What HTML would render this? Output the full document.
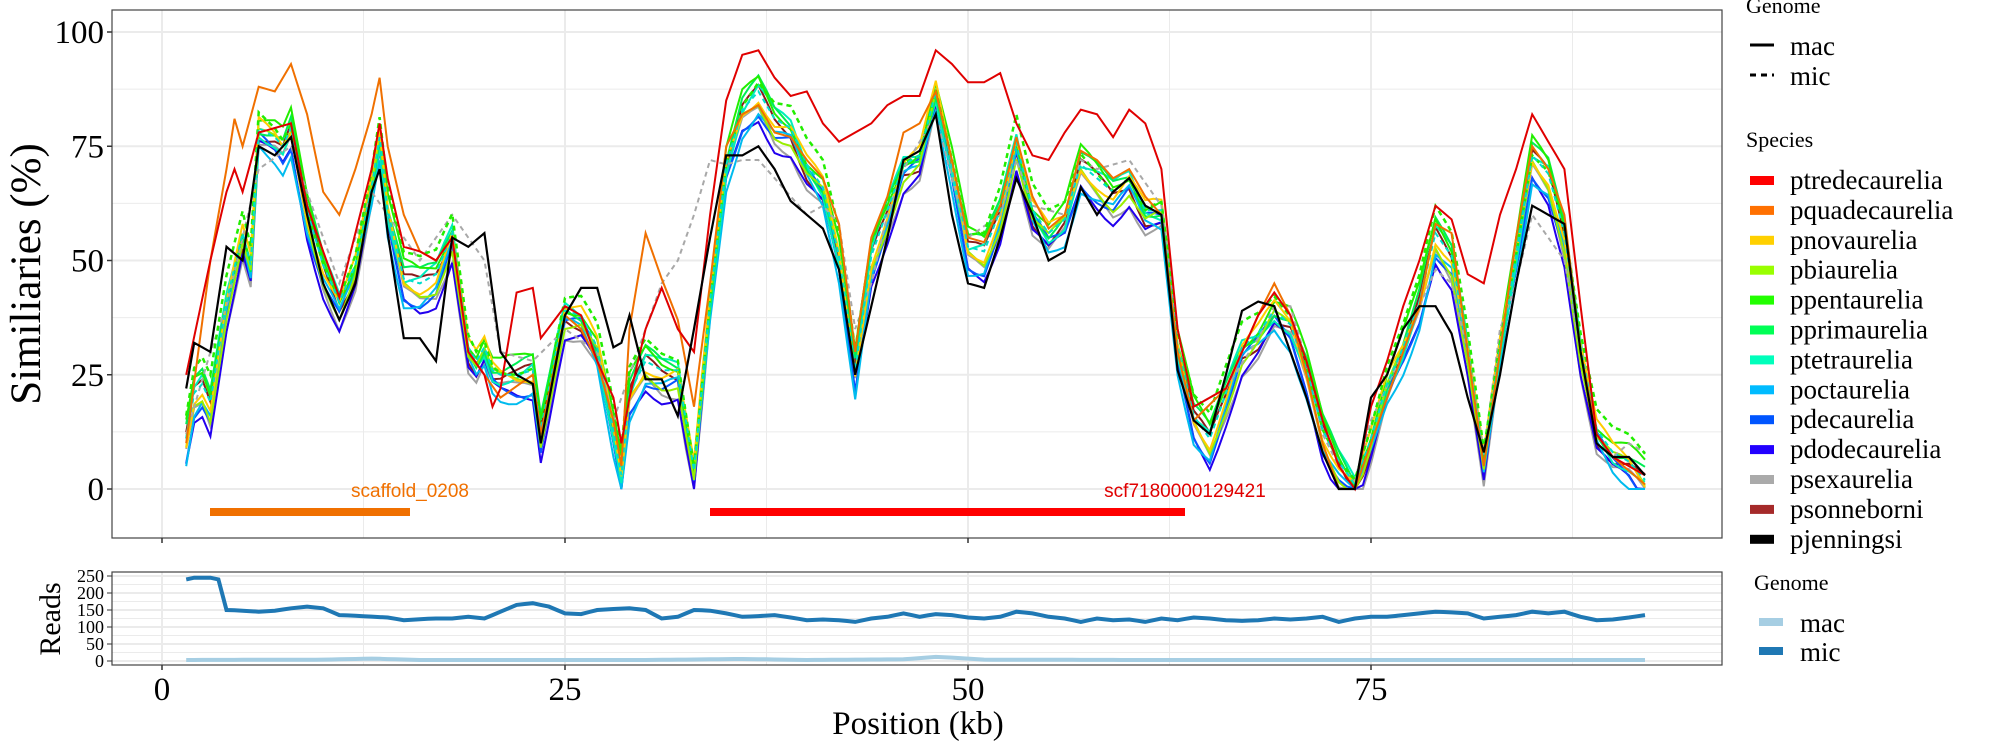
<!DOCTYPE html>
<html><head><meta charset="utf-8"><style>
html,body{margin:0;padding:0;background:#fff}
svg{display:block}
</style></head><body>
<svg id="s" width="2000" height="750" xmlns="http://www.w3.org/2000/svg" font-family="'Liberation Serif', serif"></svg>
<script>
const S=document.getElementById('s');let h='';
const X=k=>162+k*16.12, Y=v=>489-v*4.57, R=r=>661-r*0.34;
const L=112,Rt=1722,T=10,B=538,T2=572,B2=665;
h+=`<rect x="${L}" y="${T}" width="${Rt-L}" height="${B-T}" fill="#fff"/>`;
for(let v=-12.5;v<=100;v+=12.5){const y=Y(v);if(y>T&&y<B)h+=`<line x1="${L}" x2="${Rt}" y1="${y}" y2="${y}" stroke="#ebebeb" stroke-width="${v%25==0?2:1}"/>`;}
for(let k=0;k<=100;k+=12.5){const x=X(k);if(x>L&&x<Rt)h+=`<line y1="${T}" y2="${B}" x1="${x}" x2="${x}" stroke="#ebebeb" stroke-width="${k%25==0?2:1}"/>`;}
function interp(pts){const o=[];for(let k=1.5;k<=92.01;k+=0.5){let i=0;while(i<pts.length-2&&pts[i+1][0]<k)i++;const a=pts[i],b=pts[i+1];let t=(k-a[0])/(b[0]-a[0]);t=Math.max(0,Math.min(1,t));o.push([k,a[1]+(b[1]-a[1])*t]);}return o;}
const cons=[[1.5,10],[2,20],[2.5,22],[3,18],[4,40],[5,55],[5.5,48],[6,78],[7,76],[7.5,74],[8,78],[9,60],[10,48],[11,40],[12,48],[13,65],[13.5,76],[14,60],[15,45],[16,44],[17,46],[18,55],[19,30],[19.5,27],[20,30],[20.5,25],[21,24],[22,24],[23,25],[23.5,12],[24.5,30],[25,38],[26,37],[27,30],[28,12],[28.5,2],[29,20],[30,27],[31,25],[32,25],[33,3],[34,40],[35,70],[36,82],[37,86],[38,80],[39,78],[40,70],[41,65],[42,50],[43,25],[44,50],[45,60],[46,70],[47,72],[48,86],[49,70],[50,52],[51,51],[52,60],[53,75],[54,60],[55,55],[56,58],[57,70],[58,67],[59,64],[60,67],[61,60],[62,60],[63,30],[64,15],[65,10],[66,20],[67,30],[68,33],[69,38],[70,35],[71,25],[72,12],[73,5],[74,0],[75,10],[76,22],[77,30],[78,40],[79,55],[80,50],[81,30],[82,5],[83,30],[84,50],[85,72],[86,68],[87,55],[88,30],[89,12],[90,7],[91,5],[92,1]];
const C=interp(cons);
const red=[[1.5,25],[3,50],[4,65],[4.5,70],[5,65],[6,78],[8,80],[9,62],[11,42],[13,70],[13.5,80],[14,68],[15,53],[16,52],[17,50],[18,55],[19,30],[20,25],[20.5,18],[21,22],[22,43],[23,44],[23.5,33],[25,40],[26,38],[27,28],[28,20],[28.5,10],[29,20],[30,35],[31,44],[32,35],[33,30],[34,60],[35,85],[36,95],[37,96],[38,90],[39,86],[40,87],[41,80],[42,76],[43,78],[44,80],[45,84],[46,86],[47,86],[48,96],[49,93],[50,89],[51,89],[52,91],[53,80],[54,73],[55,72],[56,78],[57,83],[58,82],[59,77],[60,83],[61,80],[62,70],[63,35],[64,18],[66,22],[68,38],[69,43],[70,38],[71,28],[72,15],[73,5],[74,0],[75,18],[76,28],[77,40],[78,50],[79,62],[80,59],[81,47],[82,45],[83,60],[84,70],[85,82],[86,76],[87,70],[88,40],[89,12],[90,7],[92,3]];
const orange=[[1.5,10],[3,50],[4,70],[4.5,81],[5,75],[6,88],[7,87],[8,93],[9,82],[10,65],[11,60],[12,70],[13,82],[13.5,90],[14,75],[15,60],[16,52],[17,50],[18,55],[19,30],[20,25],[21,20],[23,25],[23.5,12],[25,38],[26,35],[27,28],[28,15],[28.5,5],[29,35],[30,56],[31,46],[32,37],[33,18],[34,45],[35,75],[36,82],[37,84],[38,78],[39,77],[40,72],[41,68],[42,58],[43,30],[44,55],[45,64],[46,78],[47,80],[48,87],[49,72],[50,55],[51,54],[52,62],[53,77],[54,64],[55,57],[56,60],[57,74],[58,72],[59,68],[60,70],[61,64],[62,60],[63,30],[64,15],[66,22],[68,38],[69,45],[70,38],[71,25],[72,10],[73,0],[74,0],[75,10],[76,20],[77,30],[78,40],[79,58],[80,56],[81,30],[82,5],[83,30],[84,55],[85,75],[86,70],[87,60],[88,30],[89,12],[90,7],[92,1]];
const black=[[1.5,22],[2,32],[3,30],[4,53],[5,50],[6,75],[7,73],[8,77],[9,60],[10,45],[11,37],[12,45],[13,65],[13.5,70],[14,56],[15,33],[16,33],[17,28],[18,55],[19,53],[20,56],[21,30],[22,25],[23,23],[23.5,10],[25,38],[26,44],[27,44],[28,31],[28.5,32],[29,38],[30,24],[31,24],[32,16],[33,35],[34,55],[35,73],[36,73],[37,75],[38,70],[39,63],[40,60],[41,57],[42,48],[43,25],[44,40],[45,55],[46,72],[47,74],[48,82],[49,60],[50,45],[51,44],[52,55],[53,68],[54,60],[55,50],[56,52],[57,66],[58,60],[59,65],[60,68],[61,62],[62,60],[63,26],[64,15],[65,12],[66,25],[67,39],[68,41],[69,40],[70,30],[71,20],[72,8],[73,0],[74,0],[75,20],[76,25],[77,35],[78,40],[79,40],[80,34],[81,20],[82,8],[83,25],[84,45],[85,62],[86,60],[87,58],[88,30],[89,10],[90,7],[91,7],[92,3]];
const greyD=[[1.5,12],[3,30],[4,40],[6,70],[8,75],[10,55],[11,45],[13,65],[14,60],[16,50],[18,60],[20,50],[21,30],[23,28],[25,35],[27,30],[28,15],[29,25],[30,35],[31,45],[32,50],[33,60],[34,72],[35,71],[36,72],[37,72],[38,68],[40,60],[41,62],[42,58],[43,35],[44,45],[45,60],[46,70],[48,82],[49,68],[50,55],[52,60],[53,72],[54,62],[56,60],[57,72],[58,70],[60,72],[62,62],[63,35],[64,18],[66,22],[68,33],[69,40],[70,40],[71,28],[72,12],[73,5],[74,2],[75,15],[77,30],[78,40],[79,48],[80,45],[81,30],[82,8],[83,35],[84,45],[85,60],[86,55],[87,50],[88,30],[89,12],[90,7],[91,10],[92,8]];
function path(pts,f){return pts.map((p,i)=>(i?'L':'M')+X(p[0]).toFixed(1)+','+Y(f?f(p):p[1]).toFixed(1)).join('');}
const sp=[['#8B1A1A',0],['#a0a0a0',-3],['#2200ee',-4],['#0a55ff',-2],['#00bbee',-3],['#00eebb',1],['#00ee55',2],['#22ee00',3],['#99ee00',-1],['#ffcc00',1]];
sp.forEach((s,j)=>{const o=s[1];h+=`<path d="${path(C,p=>Math.max(0,p[1]+o+2.5*Math.sin(p[0]*0.9+j)))}" fill="none" stroke="${s[0]}" stroke-width="2"/>`;});
h+=`<path d="${path(greyD)}" fill="none" stroke="#a8a8a8" stroke-width="2" stroke-dasharray="5,4"/>`;
h+=`<path d="${path(C,p=>Math.max(0,p[1]+4+3*Math.sin(p[0]*0.5)))}" fill="none" stroke="#22ee00" stroke-width="2.5" stroke-dasharray="5,4"/>`;
h+=`<path d="${path(C,p=>Math.max(0,p[1]+1))}" fill="none" stroke="#00ddcc" stroke-width="2" stroke-dasharray="5,4"/>`;
h+=`<path d="${path(interp(orange))}" fill="none" stroke="#f07000" stroke-width="2"/>`;
h+=`<path d="${path(interp(red))}" fill="none" stroke="#e00000" stroke-width="2"/>`;
h+=`<path d="${path(interp(black))}" fill="none" stroke="#000" stroke-width="2.2"/>`;
h+=`<rect x="210" y="508" width="200" height="8" fill="#f07000"/><rect x="710" y="508" width="475" height="8" fill="#ff0000"/>`;
h+=`<text x="410" y="497" font-size="19" fill="#f07000" text-anchor="middle" font-family="'Liberation Sans', sans-serif">scaffold_0208</text>`;
h+=`<text x="1185" y="497" font-size="19" fill="#e00000" text-anchor="middle" font-family="'Liberation Sans', sans-serif">scf7180000129421</text>`;
h+=`<rect x="${L}" y="${T}" width="${Rt-L}" height="${B-T}" fill="none" stroke="#444" stroke-width="1.2"/>`;
[0,25,50,75,100].forEach(v=>{const y=Y(v);h+=`<line x1="${L-5}" x2="${L}" y1="${y}" y2="${y}" stroke="#333" stroke-width="1.5"/><text x="${L-8}" y="${y+11}" font-size="33" text-anchor="end">${v}</text>`;});
h+=`<text transform="translate(40,274) rotate(-90)" font-size="43" text-anchor="middle">Similiaries (%)</text>`;
h+=`<rect x="${L}" y="${T2}" width="${Rt-L}" height="${B2-T2}" fill="#fff"/>`;
for(let r=0;r<=250;r+=25){h+=`<line x1="${L}" x2="${Rt}" y1="${R(r)}" y2="${R(r)}" stroke="#ebebeb" stroke-width="${r%50==0?2:1}"/>`;}
for(let k=0;k<=100;k+=12.5){const x=X(k);if(x>L&&x<Rt)h+=`<line y1="${T2}" y2="${B2}" x1="${x}" x2="${x}" stroke="#ebebeb" stroke-width="${k%25==0?2:1}"/>`;}
const mic=[[1.5,240],[2,245],[3,245],[3.5,240],[4,150],[5,148],[6,145],[7,148],[8,155],[9,160],[10,155],[11,135],[12,133],[14,128],[15,120],[16,123],[17,125],[18,125],[19,130],[20,125],[21,145],[22,165],[23,170],[24,160],[25,140],[26,138],[27,150],[28,153],[29,155],[30,150],[31,125],[32,130],[33,150],[34,148],[35,140],[36,130],[37,132],[38,135],[39,128],[40,120],[41,122],[42,120],[43,115],[44,125],[45,130],[46,140],[47,130],[48,138],[49,135],[50,128],[51,125],[52,130],[53,145],[54,140],[55,130],[56,125],[57,115],[58,125],[59,120],[60,122],[61,115],[62,125],[63,120],[64,128],[65,125],[66,120],[67,118],[68,120],[69,125],[70,122],[71,125],[72,130],[73,115],[74,125],[75,130],[76,130],[77,135],[78,140],[79,145],[80,143],[81,140],[82,125],[83,130],[84,135],[85,145],[86,140],[87,145],[88,130],[89,120],[90,122],[91,128],[92,135]];
const mac=[[1.5,3],[10,4],[13,7],[16,3],[30,3],[36,6],[40,3],[46,5],[48,12],[49,10],[51,4],[60,3],[92,3]];
const pr=pts=>interp(pts).map((p,i)=>(i?'L':'M')+X(p[0]).toFixed(1)+','+R(p[1]).toFixed(1)).join('');
h+=`<path d="${pr(mac)}" fill="none" stroke="#a6cee3" stroke-width="4"/>`;
h+=`<path d="${pr(mic)}" fill="none" stroke="#1f78b4" stroke-width="4"/>`;
h+=`<rect x="${L}" y="${T2}" width="${Rt-L}" height="${B2-T2}" fill="none" stroke="#444" stroke-width="1.2"/>`;
[0,50,100,150,200,250].forEach(r=>{const y=R(r);h+=`<line x1="${L-5}" x2="${L}" y1="${y}" y2="${y}" stroke="#333"/><text x="${L-8}" y="${y+6}" font-size="18" text-anchor="end">${r}</text>`;});
h+=`<text transform="translate(60,619) rotate(-90)" font-size="30" text-anchor="middle">Reads</text>`;
[0,25,50,75].forEach(k=>{const x=X(k);h+=`<line x1="${x}" x2="${x}" y1="${B2}" y2="${B2+5}" stroke="#333" stroke-width="1.5"/><line x1="${x}" x2="${x}" y1="${B}" y2="${B+5}" stroke="#333" stroke-width="1.5"/><text x="${x}" y="700" font-size="33" text-anchor="middle">${k}</text>`;});
h+=`<text x="918" y="734" font-size="33" text-anchor="middle">Position (kb)</text>`;
h+=`<text x="1746" y="13" font-size="22">Genome</text>`;
h+=`<line x1="1750" x2="1774" y1="45" y2="45" stroke="#000" stroke-width="3"/><text x="1790" y="55" font-size="27">mac</text>`;
h+=`<line x1="1750" x2="1774" y1="75" y2="75" stroke="#000" stroke-width="3" stroke-dasharray="6,5"/><text x="1790" y="85" font-size="27">mic</text>`;
h+=`<text x="1746" y="147" font-size="22">Species</text>`;
const leg=[['ptredecaurelia','#ff0000'],['pquadecaurelia','#ff7000'],['pnovaurelia','#ffd000'],['pbiaurelia','#99ff00'],['ppentaurelia','#22ff00'],['pprimaurelia','#00ff55'],['ptetraurelia','#00ffbb'],['poctaurelia','#00bbff'],['pdecaurelia','#0055ff'],['pdodecaurelia','#2200ff'],['psexaurelia','#aaaaaa'],['psonneborni','#a52a2a'],['pjenningsi','#000000']];
leg.forEach((l,i)=>{const y=180+i*29.9;h+=`<rect x="1750" y="${y-4}" width="24" height="9" fill="${l[1]}"/><text x="1790" y="${y+9}" font-size="27">${l[0]}</text>`;});
h+=`<text x="1754" y="590" font-size="22">Genome</text>`;
h+=`<rect x="1759" y="618" width="24" height="8" fill="#a6cee3"/><text x="1800" y="632" font-size="27">mac</text>`;
h+=`<rect x="1759" y="647" width="24" height="8" fill="#1f78b4"/><text x="1800" y="661" font-size="27">mic</text>`;
S.innerHTML=h;
</script>
</body></html>
